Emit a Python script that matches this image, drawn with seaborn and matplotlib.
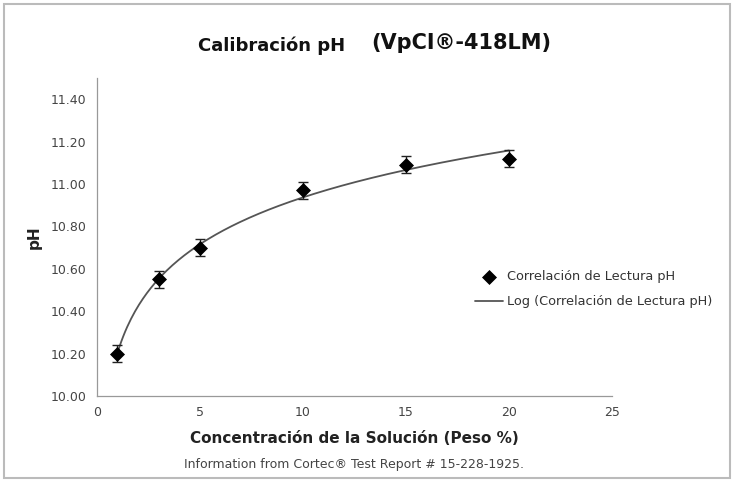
import seaborn as sns
import matplotlib.pyplot as plt
import numpy as np
import pandas as pd
from matplotlib.patches import Rectangle

conc = [1, 3, 5, 10, 15, 20]
ph = [10.20, 10.55, 10.70, 10.97, 11.09, 11.12]
err = [0.04, 0.04, 0.04, 0.04, 0.04, 0.04]
yticks = [10.0, 10.2, 10.4, 10.6, 10.8, 11.0, 11.2, 11.4]
xticks = [0, 5, 10, 15, 20, 25]

sns.set_style('white')
plt.rcParams['font.family'] = ['DejaVu Sans']

df = pd.DataFrame({'conc': conc, 'ph': ph})

# logarithmic trendline like the spreadsheet one
a, b = np.polyfit(np.log(conc), ph, 1)
xs = np.linspace(1, 20, 200)
fit = pd.DataFrame({'conc': xs, 'ph': a * np.log(xs) + b})

fig = plt.figure(figsize=(7.33, 4.8), dpi=100)
ax = fig.add_axes([0.132, 0.175, 0.703, 0.6625])

sns.lineplot(data=fit, x='conc', y='ph', color='#555555', lw=1.3, ax=ax,
             label='Log (Correlación de Lectura pH)')
ax.errorbar(conc, ph, yerr=err, fmt='none', ecolor='#222222', elinewidth=1, capsize=3.5)
sns.scatterplot(data=df, x='conc', y='ph', marker='D', s=50, color='black',
                edgecolor='black', ax=ax, label='Correlación de Lectura pH', zorder=5)

ax.set_xlim(0, 25)
ax.set_ylim(10.0, 11.5)
ax.set_xticks(xticks)
ax.set_yticks(yticks)
ax.set_yticklabels([f'{v:.2f}' for v in yticks], color='#444444', fontsize=9)
ax.set_xticklabels([str(v) for v in xticks], color='#444444', fontsize=9)
ax.tick_params(axis='both', length=4, width=0.8, color='#888888', direction='out')
for s in ['top', 'right']:
    ax.spines[s].set_visible(False)
for s in ['left', 'bottom']:
    ax.spines[s].set_color('#999999')
    ax.spines[s].set_linewidth(0.9)

ax.set_xlabel('Concentración de la Solución (Peso %)', fontsize=11, fontweight='bold',
              color='#222222', labelpad=8)
ax.set_ylabel('pH', fontsize=11, fontweight='bold', color='#222222', labelpad=6)

h, l = ax.get_legend_handles_labels()
ax.legend(h[::-1], l[::-1], loc='center left', bbox_to_anchor=(0.724, 0.336),
          frameon=False, fontsize=9.3, handlelength=2.2, handletextpad=0.3,
          labelspacing=0.95, labelcolor='#333333', borderaxespad=0)

fig.text(0.471, 0.905, 'Calibración pH', ha='right', va='center', fontsize=13,
         fontweight='bold', color='#111111')
fig.text(0.507, 0.91, '(VpCI®-418LM)', ha='left', va='center', fontsize=15,
         fontweight='bold', color='#111111')
fig.text(0.483, 0.033, 'Information from Cortec® Test Report # 15-228-1925.',
         ha='center', va='center', fontsize=9, color='#444444')

fig.patches.append(Rectangle((0.006, 0.004), 0.99, 0.988, transform=fig.transFigure,
                             fill=False, edgecolor='#bbbbbb', lw=1.5))

fig.savefig('out.png', dpi=100)
